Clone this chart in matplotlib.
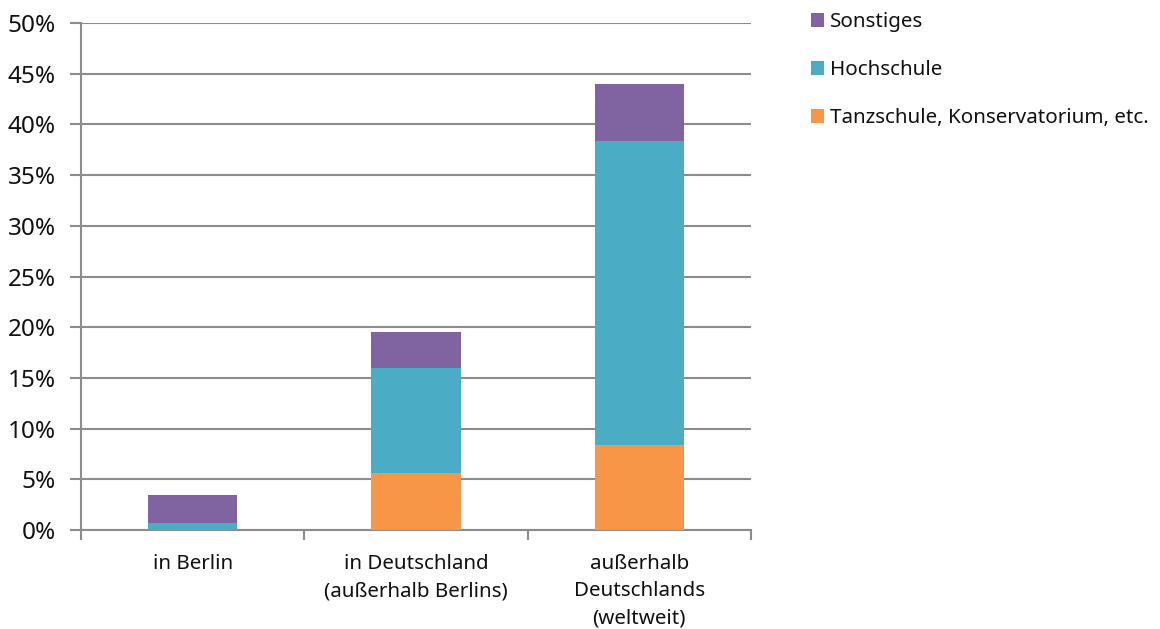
import matplotlib
matplotlib.use("Agg")
import matplotlib.pyplot as plt
import numpy as np

categories = ["in Berlin", "in Deutschland\n(außerhalb Berlins)", "außerhalb\nDeutschlands\n(weltweit)"]
tanzschule = [0.0, 5.6, 8.4]
hochschule = [0.7, 10.4, 30.0]
sonstiges = [2.8, 3.5, 5.6]
series_names = ["Tanzschule, Konservatorium, etc.", "Hochschule", "Sonstiges"]
colors = ["#F79646", "#4BACC6", "#8064A2"]
yticks = [0, 5, 10, 15, 20, 25, 30, 35, 40, 45, 50]

plt.rcParams['font.family'] = ['Noto Sans', 'DejaVu Sans']
txt = "#111111"
grid = "#8c8c8c"
fs = 14.8

fig = plt.figure(figsize=(11.6, 6.29), dpi=100)
ax = fig.add_axes([81/1160, 1-530/629, 670/1160, 507/629])

x = np.arange(len(categories))
bottom = np.zeros(len(categories))
handles = []
for vals, name, c in zip([tanzschule, hochschule, sonstiges], series_names, colors):
    b = ax.bar(x, vals, width=0.4, bottom=bottom, color=c, label=name, zorder=3)
    handles.append(b)
    bottom += np.array(vals)

ax.set_xlim(-0.5, len(categories) - 0.5)
ax.set_ylim(0, 50)
ax.set_yticks(yticks)
ax.set_yticklabels([f"{v}%" for v in yticks])
ax.yaxis.grid(True, color=grid, linewidth=1.5, zorder=0)
ax.set_axisbelow(True)

ax.set_xticks(x)
ax.set_xticklabels(categories, linespacing=1.5)
ax.set_xticks(np.arange(-0.5, len(categories)), minor=True)
ax.tick_params(axis='x', which='major', length=0, pad=17, labelsize=fs, labelcolor=txt)
ax.tick_params(axis='x', which='minor', length=7, width=1.5, color=grid)
ax.tick_params(axis='y', length=8, width=1.5, color=grid, labelsize=17.5, labelcolor=txt, pad=10)

for s in ['top', 'right']:
    ax.spines[s].set_visible(False)
ax.spines['left'].set_color(grid)
ax.spines['left'].set_linewidth(1.5)
ax.spines['bottom'].set_color(grid)
ax.spines['bottom'].set_linewidth(1.5)

leg = fig.legend(handles[::-1], series_names[::-1], loc='upper left',
                 bbox_to_anchor=(792/1160, 1 + 6/629), frameon=False,
                 fontsize=fs, handlelength=0.65, handleheight=0.65,
                 handletextpad=0.3, labelspacing=1.35, labelcolor=txt)

fig.savefig("out.png", dpi=100)
